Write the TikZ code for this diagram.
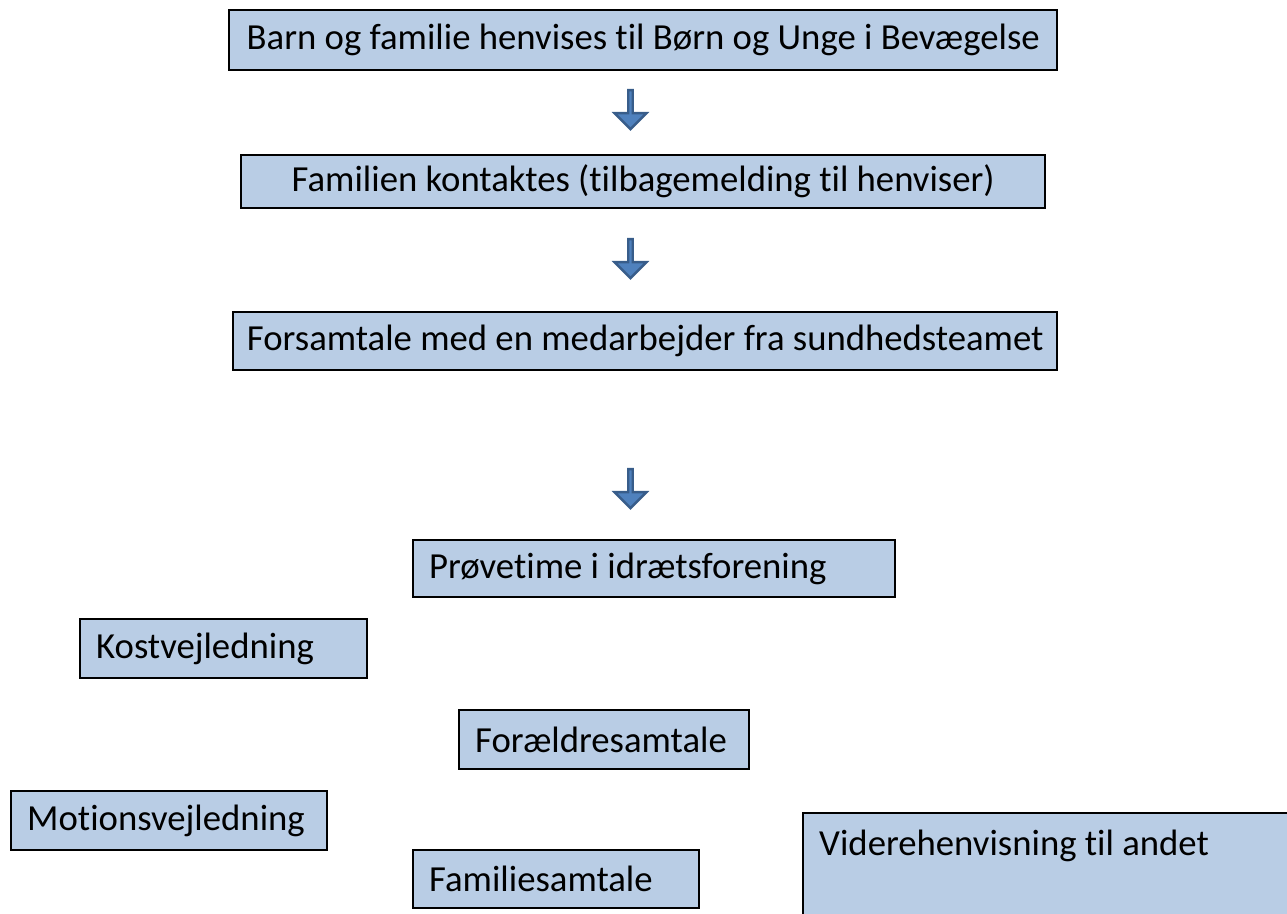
\documentclass[tikz,border=0pt]{standalone}
\usepackage{fontspec}
\setmainfont{Carlito}[Ligatures={NoCommon}]
\usetikzlibrary{shapes.arrows,positioning}
\definecolor{boxblue}{HTML}{B9CDE5}
\definecolor{arrowblue}{HTML}{4F81BD}
\definecolor{arrowline}{HTML}{385D8A}
\newcommand{\Trin}{\fontsize{20.9}{24}\selectfont}

\begin{document}
\begin{tikzpicture}[
                    >=latex,
                    box/.style={draw=black, line width=1.4pt, fill=boxblue, inner ysep=0pt, font=\Trin},
                    midbox/.style={box, align=center, anchor=west},
                    leftbox/.style={box, align=flush left, anchor=west, inner xsep=0.32cm},
                    downarrow/.style={single arrow, shape border rotate=270, draw=arrowline, line width=1.4pt, fill=arrowblue,
                        minimum height=0.78cm, minimum width=0.64cm, single arrow head extend=0.15cm, inner sep=0pt}]

                \useasboundingbox (0,0) rectangle (25.74,-18.26);

                \node[midbox, minimum width=16.56cm, minimum height=1.2cm] (henvis) at (4.56,-0.8)
                {Barn og familie henvises til Børn og Unge i Bevægelse};
                \node[midbox, minimum width=16.08cm, minimum height=1.06cm] (kontakt) at (4.80,-3.63)
                {Familien kontaktes (tilbagemelding til henviser)};
                \node[midbox, minimum width=16.48cm, minimum height=1.16cm] (forsamtale) at (4.64,-6.82)
                {Forsamtale med en medarbejder fra sundhedsteamet};

                \node[leftbox, text width=9.00cm, minimum height=1.14cm] (proeve) at (8.24,-11.37) {Prøvetime i idrætsforening};
                \node[leftbox, text width=5.10cm, minimum height=1.18cm] (kost) at (1.58,-12.97) {Kostvejledning};
                \node[leftbox, text width=5.16cm, minimum height=1.18cm] (foraeldre) at (9.16,-14.79) {Forældresamtale};
                \node[leftbox, text width=5.68cm, minimum height=1.18cm] (motion) at (0.20,-16.41) {Motionsvejledning};
                \node[leftbox, text width=5.08cm, minimum height=1.16cm] (familie) at (8.24,-17.58) {Familiesamtale};
                \node[leftbox, anchor=north west, text width=9.50cm, text height=0.84cm, text depth=1.6cm] (videre) at (16.04,-16.24)
                {Viderehenvisning til andet};

                % blokpile mellem trinene
                \node[downarrow] (pil1) at (12.61,-2.17) {};
                \node[downarrow] (pil2) at (12.61,-5.15) {};
                \node[downarrow] (pil3) at (12.61,-9.75) {};

            \end{tikzpicture}
\end{document}
